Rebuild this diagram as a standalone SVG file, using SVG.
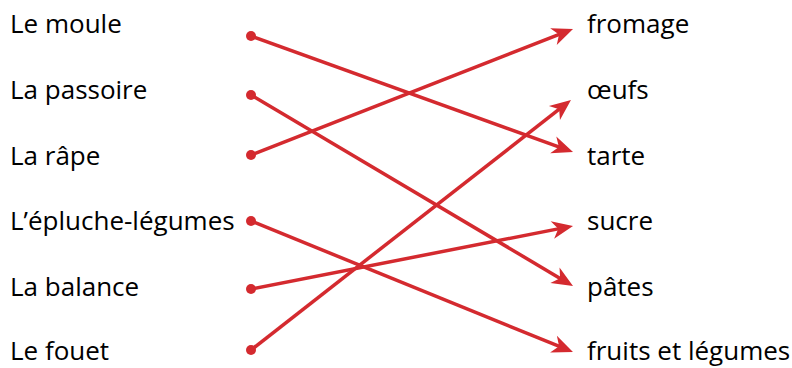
<svg xmlns="http://www.w3.org/2000/svg" width="792" height="368" viewBox="0 0 792 368">
<style>
text{font-family:"Open Sans","Noto Sans",sans-serif;font-size:26px;fill:#000}
.c line{stroke:#d42a2f;stroke-width:3.5;fill:none}
.c circle{fill:#d42a2f}
</style>
<defs>
<marker id="ah" viewBox="-14 -11 28 22" markerWidth="28" markerHeight="22" refX="0" refY="0" orient="auto" markerUnits="userSpaceOnUse">
<path d="M10,0 L-11,-9 L-5,0 L-11,9 Z" fill="#d42a2f"/>
</marker>
</defs>
<rect width="792" height="368" fill="#fff"/>
<g id="left">
<g id="n-moule"><text x="10" y="33">Le moule</text></g>
<g id="n-passoire"><text x="10" y="99">La passoire</text></g>
<g id="n-rape"><text x="10" y="165">La râpe</text></g>
<g id="n-eplu"><text x="10" y="230">L’épluche-légumes</text></g>
<g id="n-balance"><text x="10" y="296">La balance</text></g>
<g id="n-fouet"><text x="10" y="360">Le fouet</text></g>
</g>
<g id="right">
<g id="n-fromage"><text x="587" y="33">fromage</text></g>
<g id="n-oeufs"><text x="587" y="99">œufs</text></g>
<g id="n-tarte"><text x="587" y="165">tarte</text></g>
<g id="n-sucre"><text x="587" y="230">sucre</text></g>
<g id="n-pates"><text x="587" y="296">pâtes</text></g>
<g id="n-fruits"><text x="587" y="360">fruits et légumes</text></g>
</g>
<g id="connectors" class="c">
<circle cx="251" cy="36" r="5"/>
<circle cx="251" cy="95" r="5"/>
<circle cx="251" cy="155" r="5"/>
<circle cx="251" cy="221" r="5"/>
<circle cx="251" cy="289" r="5"/>
<circle cx="251" cy="350" r="5"/>
<line x1="251" y1="36" x2="563.6" y2="148.6" marker-end="url(#ah)"/>
<line x1="251" y1="95" x2="564.4" y2="280.9" marker-end="url(#ah)"/>
<line x1="251" y1="155" x2="563.7" y2="32.6" marker-end="url(#ah)"/>
<line x1="251" y1="221" x2="563.7" y2="348.2" marker-end="url(#ah)"/>
<line x1="251" y1="289" x2="563.2" y2="227.9" marker-end="url(#ah)"/>
<line x1="251" y1="350" x2="563.1" y2="106.2" marker-end="url(#ah)"/>
</g>
</svg>
